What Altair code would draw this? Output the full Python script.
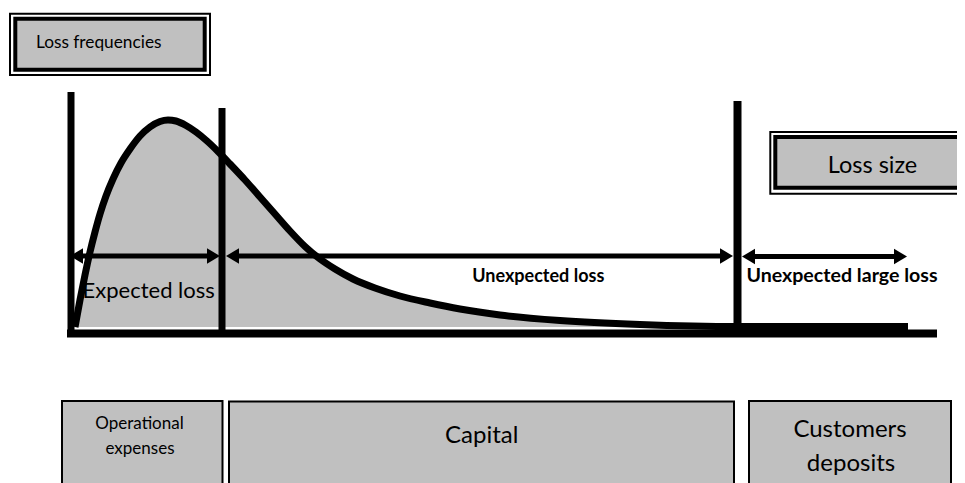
import altair as alt
import pandas as pd

# ---------------- values ----------------
# loss-frequency curve (horizontal = loss size, vertical = frequency, picture units)
curve_loss = [75, 80, 85, 90, 95, 100, 106, 113, 121, 130, 140, 150, 160, 168, 176, 186,
              196, 207, 218, 230, 245, 260, 275, 290, 305, 320, 335, 353, 375, 400, 430,
              460, 500, 560, 640, 740, 908]
curve_freq = [327, 300, 275, 252, 232, 214, 196, 179, 163, 149, 136, 127, 121.5, 120, 121,
              125.5, 132, 141, 151.5, 164, 180, 197, 214, 231, 246.5, 259, 269, 279, 288,
              296, 303, 309, 315, 320.5, 324.5, 326.5, 326.5]
baseline = 327

# frame lines: axes and the two threshold lines
line_x1 = [71, 67, 222, 737.5]
line_y1 = [92, 333.5, 108, 101]
line_x2 = [71, 937, 222, 737.5]
line_y2 = [337, 333.5, 330, 330]
line_w = [7, 8, 7, 8]

# double-headed arrows (left tip, right tip, level)
arrow_left = [70, 226, 742]
arrow_right = [220, 733, 907]
arrow_level = [256, 256, 256.5]

# boxes
box_x1 = [10, 15.3, 770.3, 775.3, 62, 229, 749]
box_y1 = [13.7, 18.7, 132, 137, 401, 401.5, 401]
box_x2 = [210, 204.7, 990, 990, 222.5, 734, 951]
box_y2 = [75, 69.7, 193.7, 187.7, 500, 500, 500]
box_fill = ["#ffffff", "#c0c0c0", "#ffffff", "#c0c0c0", "#c0c0c0", "#c0c0c0", "#c0c0c0"]
box_w = [2, 4, 2, 4, 2, 2, 2]

# texts
txt = ["Loss frequencies", "Loss size", "Expected loss", "Operational", "expenses",
       "Capital", "Customers", "deposits"]
txt_x = [98.7, 872.5, 148.7, 139.5, 140, 481.7, 850, 851]
txt_y = [48.3, 173.3, 298.3, 429.3, 454, 443.3, 436.7, 470.7]
txt_size = [17.3, 23.5, 22, 17, 17, 24, 24, 24]

btxt = ["Unexpected loss", "Unexpected large loss"]
btxt_x = [538.3, 842]
btxt_y = [281.7, 281.7]
btxt_size = [18, 19.6]

GRAY = "#c0c0c0"
FONT = "Lato"

XS = alt.Scale(domain=[8, 957])
YS = alt.Scale(domain=[8, 483], reverse=True)


def X(f):
    return alt.X(f, type="quantitative", scale=XS, axis=None)


def Y(f):
    return alt.Y(f, type="quantitative", scale=YS, axis=None)


curve = pd.DataFrame({"loss": curve_loss, "freq": curve_freq, "base": baseline})
area = alt.Chart(curve).mark_area(color=GRAY, interpolate="monotone", opacity=1).encode(
    x=X("loss"), y=Y("freq"), y2=alt.Y2("base"))
line = alt.Chart(curve).mark_line(color="black", strokeWidth=7, interpolate="monotone",
                                  strokeJoin="round", strokeCap="butt").encode(
    x=X("loss"), y=Y("freq"))

lines = pd.DataFrame({"x1": line_x1, "y1": line_y1, "x2": line_x2, "y2": line_y2, "w": line_w})
frame = alt.Chart(lines).mark_rule(color="black", strokeCap="butt").encode(
    x=X("x1"), y=Y("y1"), x2=alt.X2("x2"), y2=alt.Y2("y2"),
    strokeWidth=alt.StrokeWidth("w:Q", scale=None))

HEAD = 6.5
arrows = pd.DataFrame({"a": arrow_left, "b": arrow_right, "y": arrow_level})
arrows["a_in"] = arrows["a"] + HEAD
arrows["b_in"] = arrows["b"] - HEAD
shafts = alt.Chart(arrows).mark_rule(color="black", strokeWidth=5, strokeCap="butt").encode(
    x=X("a_in"), x2=alt.X2("b_in"), y=Y("y"))
heads_r = alt.Chart(arrows).mark_point(
    shape="M1,0L-1,-1.2L-1,1.2Z", filled=True, color="black", opacity=1, size=169, strokeWidth=0
).encode(x=X("b_in"), y=Y("y"))
heads_l = alt.Chart(arrows).mark_point(
    shape="M-1,0L1,-1.2L1,1.2Z", filled=True, color="black", opacity=1, size=169, strokeWidth=0
).encode(x=X("a_in"), y=Y("y"))

boxes = pd.DataFrame({"x1": box_x1, "y1": box_y1, "x2": box_x2, "y2": box_y2,
                      "fill": box_fill, "w": box_w})
rects = alt.Chart(boxes).mark_rect(stroke="black", clip=True).encode(
    x=X("x1"), y=Y("y1"), x2=alt.X2("x2"), y2=alt.Y2("y2"),
    fill=alt.Fill("fill:N", scale=None),
    strokeWidth=alt.StrokeWidth("w:Q", scale=None))

labels = pd.DataFrame({"t": txt, "x": txt_x, "y": txt_y, "s": txt_size})
text_r = alt.Chart(labels).mark_text(font=FONT, color="black", align="center",
                                     baseline="alphabetic").encode(
    x=X("x"), y=Y("y"), text="t:N", size=alt.Size("s:Q", scale=None))

blabels = pd.DataFrame({"t": btxt, "x": btxt_x, "y": btxt_y, "s": btxt_size})
text_b = alt.Chart(blabels).mark_text(font=FONT, fontWeight="bold", color="black",
                                      align="center", baseline="alphabetic").encode(
    x=X("x"), y=Y("y"), text="t:N", size=alt.Size("s:Q", scale=None))

chart = alt.layer(rects, area, line, frame, shafts, heads_r, heads_l, text_r, text_b).properties(
    width=949, height=475, padding=0,
    autosize=alt.AutoSizeParams(type="none"),
).configure_view(stroke=None)

chart.save("out.html", embed_options={"renderer": "svg", "actions": False})
